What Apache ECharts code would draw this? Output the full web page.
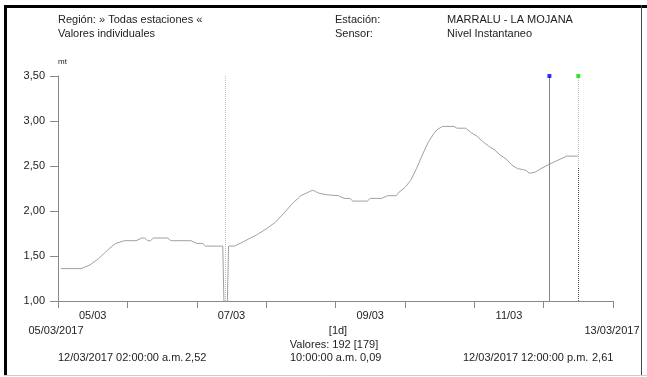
<!DOCTYPE html>
<html><head><meta charset="utf-8">
<script src="https://cdn.jsdelivr.net/npm/echarts@6/dist/echarts.min.js"></script>
<style>html,body{margin:0;padding:0;background:#fff}#c{width:647px;height:377px}</style>
</head><body><div id="c"></div>
<script>
// hours since 05/03/2017 00:00 and level (mt)
const hours = [1,8,11,14,16,18,20,23,27,29,30,31,32,33,38,39,46,48,50,51,57,58,59,61,63,66,69,72,75,78,81,84,86,88,89,90,93,97,99,101,102,107,108,112,114,117,118,120,122,124,126,128,130,131,133,137,138,141,143,145,147,149,151,153,155,157,159,161,162,163,165,167,170,172,174,176,180];
const levels = [1.36,1.36,1.40,1.47,1.53,1.59,1.64,1.67,1.67,1.70,1.70,1.67,1.67,1.70,1.70,1.67,1.67,1.64,1.64,1.61,1.61,0.09,1.61,1.61,1.64,1.69,1.74,1.80,1.87,1.97,2.08,2.17,2.20,2.23,2.22,2.20,2.18,2.17,2.14,2.14,2.11,2.11,2.14,2.14,2.17,2.17,2.21,2.26,2.34,2.47,2.62,2.76,2.86,2.90,2.94,2.94,2.92,2.92,2.87,2.83,2.77,2.72,2.68,2.62,2.58,2.51,2.47,2.46,2.45,2.42,2.43,2.47,2.52,2.55,2.58,2.61,2.61];
const xTickHours = [0,24,48,72,96,120,144,168,192];
const xLabelHours = [12,60,108,156];
const xLabelTexts = ['05/03','07/03','09/03','11/03'];
const yMin = 1.0, yMax = 3.5, yStep = 0.5;
const dipHour = 58;        // 07/03/2017 10:00:00 a.m.  0,09
const blueHour = 170;      // 12/03/2017 02:00:00 a.m.  2,52
const greenHour = 180;     // 12/03/2017 12:00:00 p.m.  2,61
const greenDropFrom = 2.49;

const chart = echarts.init(document.getElementById('c'), null, {renderer:'canvas'});
const F = 'Liberation Sans, Arial, sans-serif';
const TC = '#222';
const txt = (x,y,t,align,size) => ({type:'text', x:x, y:y, style:{text:t, fill:TC, font:(size||11)+'px '+F, textAlign:align||'left', textVerticalAlign:'middle'}});
const lineData = hours.map((h,i)=>[h,levels[i]]);
chart.setOption({
  animation:false,
  grid:{left:58,right:34,top:76,bottom:76},
  xAxis:{type:'value',min:0,max:192,interval:24,
    axisLine:{lineStyle:{color:'#888',width:1}},
    axisTick:{show:true,length:7,customValues:xTickHours,lineStyle:{color:'#888'}},
    axisLabel:{customValues:xLabelHours,formatter:v=>xLabelTexts[xLabelHours.indexOf(v)]||'',color:TC,fontFamily:F,fontSize:11,margin:9},
    splitLine:{show:false}},
  yAxis:{type:'value',min:yMin,max:yMax,interval:yStep,
    axisLine:{show:true,lineStyle:{color:'#888'}},
    axisTick:{show:true,length:8,lineStyle:{color:'#888'}},
    axisLabel:{formatter:v=>v.toFixed(2).replace('.',','),color:TC,fontFamily:F,fontSize:11,margin:13},
    splitLine:{show:false}},
  series:[
    {type:'line',data:lineData,showSymbol:false,clip:true,lineStyle:{color:'#a0a0a0',width:1},
     markLine:{silent:true,symbol:'none',label:{show:false},data:[
       [{coord:[dipHour,yMin],lineStyle:{color:'#bbb',type:[1,1],width:1}},{coord:[dipHour,yMax]}],
       [{coord:[blueHour,yMin],lineStyle:{color:'#888',type:'solid',width:1}},{coord:[blueHour,yMax]}],
       [{coord:[greenHour,yMin],lineStyle:{color:'#bbb',type:[1,1],width:1}},{coord:[greenHour,yMax]}],
       [{coord:[greenHour,yMin],lineStyle:{color:'#555',type:[1,1],width:1}},{coord:[greenHour,greenDropFrom]}]
     ]}},
    {type:'scatter',data:[[blueHour,yMax]],symbol:'rect',symbolSize:4,itemStyle:{color:'#0000ff'},z:5},
    {type:'scatter',data:[[greenHour,yMax]],symbol:'rect',symbolSize:4,itemStyle:{color:'#00e000'},z:5}
  ],
  graphic:[
    {type:'line',shape:{x1:4,y1:6.5,x2:647,y2:6.5},style:{stroke:'#000',lineWidth:3}},
    {type:'line',shape:{x1:5.5,y1:5,x2:5.5,y2:375},style:{stroke:'#000',lineWidth:3}},
    {type:'line',shape:{x1:641.5,y1:5,x2:641.5,y2:375},style:{stroke:'#444',lineWidth:1}},
    {type:'line',shape:{x1:4,y1:375.5,x2:647,y2:375.5},style:{stroke:'#ccc',lineWidth:1}},
    txt(58,20,'Región: » Todas estaciones «'),
    txt(58,34,'Valores individuales'),
    txt(335,20,'Estación:'),
    txt(335,34,'Sensor:'),
    txt(447,20,'MARRALU - LA MOJANA'),
    txt(447,34,'Nivel Instantaneo'),
    txt(58,62,'mt','left',8),
    txt(56,331,'05/03/2017','center'),
    txt(338,331,'[1d]','center'),
    txt(612,331,'13/03/2017','center'),
    txt(334,345,'Valores: 192 [179]','center'),
    txt(58,358,'12/03/2017 02:00:00 a.m.'),
    txt(185,358,'2,52'),
    txt(290,358,'10:00:00 a.m.'),
    txt(360,358,'0,09'),
    txt(463,358,'12/03/2017 12:00:00 p.m.'),
    txt(592,358,'2,61')
  ]
});
</script></body></html>
